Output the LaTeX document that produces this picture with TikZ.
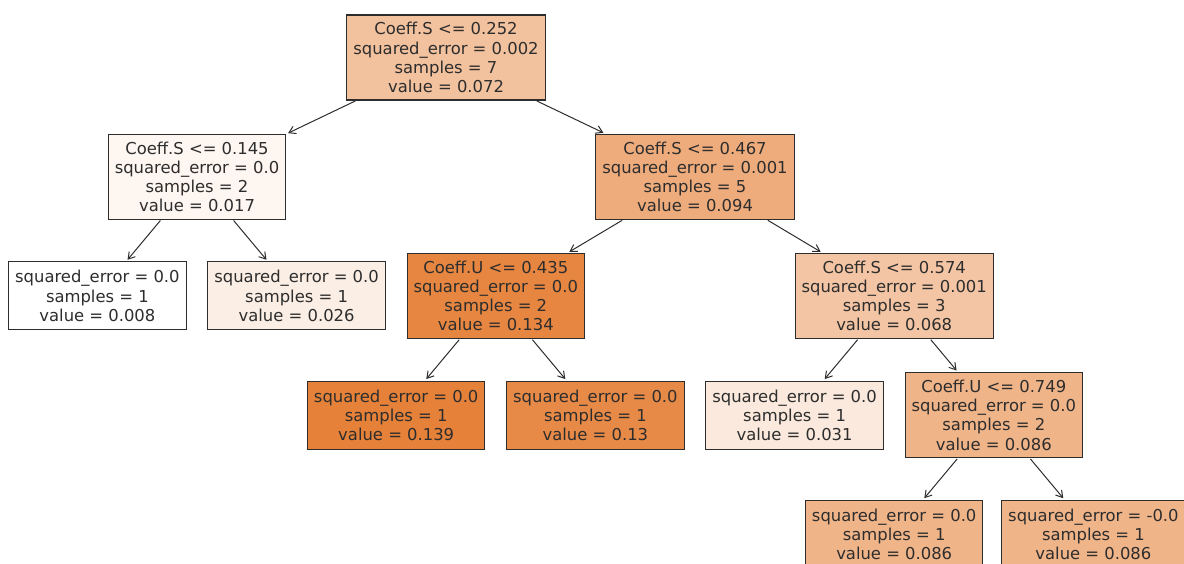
\documentclass[tikz,border=0pt]{standalone}
\usepackage{fontspec}
\setmainfont{DejaVu Sans}
\usetikzlibrary{arrows.meta}

% node fills: white blended towards orange by predicted value
\definecolor{cRoot}{RGB}{242,193,158}
\definecolor{cLa}{RGB}{253,246,241}
\definecolor{cRa}{RGB}{238,172,125}
\definecolor{cLeafA}{RGB}{255,255,255}
\definecolor{cLeafB}{RGB}{251,238,228}
\definecolor{cUa}{RGB}{230,134,65}
\definecolor{cSb}{RGB}{243,197,164}
\definecolor{cLeafC}{RGB}{229,129,57}
\definecolor{cLeafD}{RGB}{231,138,71}
\definecolor{cLeafE}{RGB}{250,233,220}
\definecolor{cUb}{RGB}{240,180,137}
\definecolor{inkc}{RGB}{45,45,45}

\begin{document}
\begin{tikzpicture}[x=1pt,y=-1pt,
  box/.style={draw=inkc, line width=1.1pt, text=inkc, align=center,
    font=\fontsize{16.4}{19.2}\selectfont, inner xsep=6.5pt, inner ysep=0pt},
  split/.style={box, minimum height=85pt},
  leaf/.style={box, minimum height=68pt},
  edge/.style={draw=inkc, line width=1pt, -{Straight Barb[length=6.5pt,width=8pt]},
    shorten >=2pt, shorten <=1pt}]
\useasboundingbox (0,0) rectangle (1184,563);
\clip (0,0) rectangle (1184,563);

% depth 0
\node[split, fill=cRoot] (n0) at (446.0,57.5)
  {Coeff.S <= 0.252\\squared\_error = 0.002\\samples = 7\\value = 0.072};
% depth 1
\node[split, fill=cLa] (n1) at (197.0,176.7)
  {Coeff.S <= 0.145\\squared\_error = 0.0\\samples = 2\\value = 0.017};
\node[split, fill=cRa] (n4) at (695.0,176.7)
  {Coeff.S <= 0.467\\squared\_error = 0.001\\samples = 5\\value = 0.094};
% depth 2
\node[leaf, fill=cLeafA] (n2) at (97.4,295.9)
  {squared\_error = 0.0\\samples = 1\\value = 0.008};
\node[leaf, fill=cLeafB] (n3) at (296.6,295.9)
  {squared\_error = 0.0\\samples = 1\\value = 0.026};
\node[split, fill=cUa] (n5) at (495.8,295.9)
  {Coeff.U <= 0.435\\squared\_error = 0.0\\samples = 2\\value = 0.134};
\node[split, fill=cSb] (n8) at (894.2,295.9)
  {Coeff.S <= 0.574\\squared\_error = 0.001\\samples = 3\\value = 0.068};
% depth 3
\node[leaf, fill=cLeafC] (n6) at (396.2,415.1)
  {squared\_error = 0.0\\samples = 1\\value = 0.139};
\node[leaf, fill=cLeafD] (n7) at (595.4,415.1)
  {squared\_error = 0.0\\samples = 1\\value = 0.13};
\node[leaf, fill=cLeafE] (n9) at (794.6,415.1)
  {squared\_error = 0.0\\samples = 1\\value = 0.031};
\node[split, fill=cUb] (n10) at (993.8,415.1)
  {Coeff.U <= 0.749\\squared\_error = 0.0\\samples = 2\\value = 0.086};
% depth 4
\node[leaf, fill=cUb] (n11) at (894.2,534.3)
  {squared\_error = 0.0\\samples = 1\\value = 0.086};
\node[leaf, fill=cUb] (n12) at (1093.4,534.3)
  {squared\_error = -0.0\\samples = 1\\value = 0.086};

% connectors
\foreach \p/\c in {n0/n1, n0/n4, n1/n2, n1/n3, n4/n5, n4/n8,
                   n5/n6, n5/n7, n8/n9, n8/n10, n10/n11, n10/n12}
  \draw[edge] (\p) -- (\c);
\end{tikzpicture}
\end{document}
